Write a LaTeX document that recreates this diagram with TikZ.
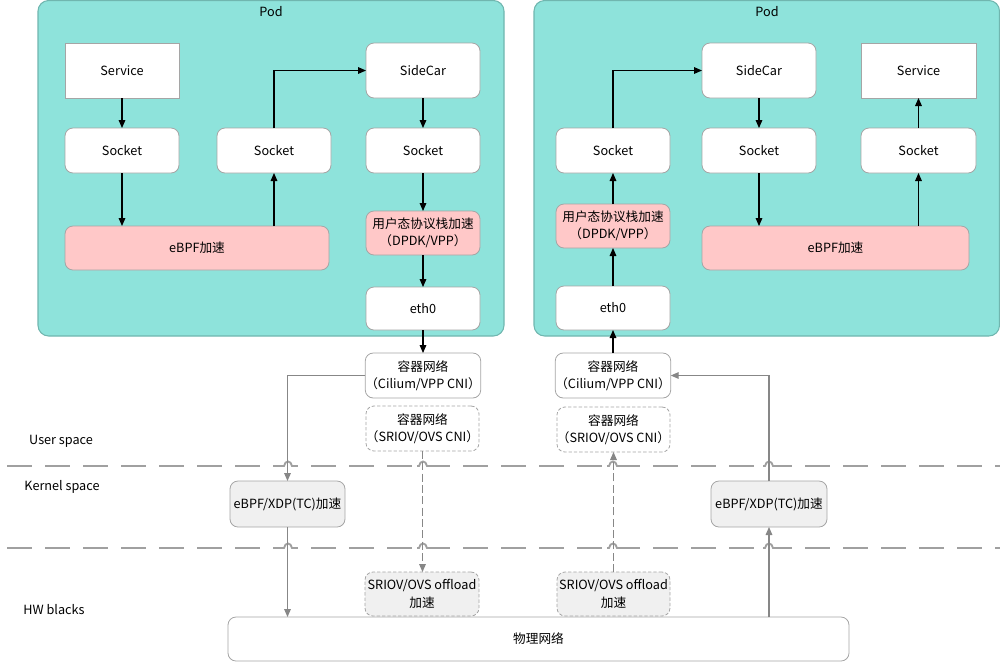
\documentclass[tikz,border=0pt]{standalone}
\usepackage{fontspec}
\setmainfont{Noto Sans CJK SC}
\usetikzlibrary{arrows.meta}
\definecolor{podfill}{RGB}{142,227,219}
\definecolor{podborder}{RGB}{112,182,175}
\definecolor{pinkfill}{RGB}{255,200,200}
\definecolor{grayfill}{RGB}{240,240,240}
\definecolor{bordergray}{RGB}{165,165,165}
\definecolor{linegray}{RGB}{135,135,135}
\definecolor{sepgray}{RGB}{160,160,160}
\newcommand\bx[7]{\node[#1, minimum width={(#5-#3)*0.75pt}, minimum height={(#6-#4)*0.75pt}] (#2) at ({(#3+#5)/2},{(#4+#6)/2}) {#7};}
\newcommand\hop[2]{%
  \fill[white] (#1-6,#2-1.5) rectangle (#1+6,#2+1.5);
  \draw[sepline, dash pattern=] (#1-6,#2) -- (#1-4,#2) .. controls (#1-3,#2-6) and (#1+3,#2-6) .. (#1+4,#2) -- (#1+6,#2);}
\begin{document}
\begin{tikzpicture}[x=0.75pt,y=-0.75pt,
  font=\fontsize{9.5}{13}\selectfont,
  every node/.style={inner sep=0pt, outer sep=0pt},
  pod/.style={draw=podborder, fill=podfill, rounded corners=8pt, line width=0.8pt},
  wbox/.style={draw=bordergray, fill=white, rounded corners=6pt, align=center, line width=0.6pt},
  sqbox/.style={draw=bordergray, fill=white, align=center, line width=0.6pt},
  pbox/.style={wbox, fill=pinkfill},
  gbox/.style={wbox, fill=grayfill},
  dbox/.style={wbox, dash pattern=on 2.5pt off 1.5pt},
  dgbox/.style={gbox, dash pattern=on 2.5pt off 1.5pt},
  blk/.style={-{Triangle[length=6pt,width=5pt]}, line width=0.8pt, black},
  gry/.style={-{Triangle[length=6pt,width=5pt]}, line width=0.8pt, linegray},
  gryd/.style={gry, dash pattern=on 6pt off 2.5pt},
  sepline/.style={sepgray, line width=1.4pt, dash pattern=on 19pt off 9.5pt}
]
\useasboundingbox (0,0) rectangle (1000,662);

% separators
\draw[sepline] (7,466) -- (1000,466);
\draw[sepline] (7,548) -- (1000,548);
\foreach \xx in {288,423,613,769} {\hop{\xx}{466}\hop{\xx}{548}}

% pods
\bx{pod}{podL}{38}{0.5}{504}{336}{}
\bx{pod}{podR}{534}{0.5}{999.5}{336}{}
\node (podLlbl) at (271,12) {Pod};
\node (podRlbl) at (767,12) {Pod};

% left pod
\bx{sqbox}{svcL}{65}{43}{179}{98}{Service}
\bx{wbox}{sk1L}{65}{128}{179}{173}{Socket}
\bx{wbox}{sk2L}{217}{128}{331}{173}{Socket}
\bx{wbox}{scL}{366}{43}{480}{98}{SideCar}
\bx{wbox}{sk3L}{366}{128}{480}{173}{Socket}
\bx{pbox}{ebL}{65}{226}{329}{270}{eBPF加速}
\bx{pbox}{dpL}{366}{211}{480}{255}{用户态协议栈加速\\（DPDK/VPP）}
\bx{wbox}{ethL}{366}{287}{480}{330}{eth0}

% right pod
\bx{wbox}{sk1R}{556}{128}{670}{173}{Socket}
\bx{pbox}{dpR}{556}{204}{670}{248}{用户态协议栈加速\\（DPDK/VPP）}
\bx{wbox}{ethR}{556}{286}{670}{330}{eth0}
\bx{wbox}{scR}{702}{43}{816}{98}{SideCar}
\bx{wbox}{sk2R}{702}{128}{816}{173}{Socket}
\bx{sqbox}{svcR}{861}{43}{976}{98}{Service}
\bx{wbox}{sk3R}{861}{128}{976}{173}{Socket}
\bx{pbox}{ebR}{702}{226}{969}{270}{eBPF加速}

% middle
\bx{wbox}{cnL}{366}{353}{480}{398}{容器网络\\（Cilium/VPP CNI）}
\bx{dbox}{srL}{366}{406}{479}{451}{容器网络\\（SRIOV/OVS CNI）}
\bx{wbox}{cnR}{556}{353}{670}{398}{容器网络\\（Cilium/VPP CNI）}
\bx{dbox}{srR}{557}{407}{670}{452}{容器网络\\（SRIOV/OVS CNI）}
\bx{gbox}{xdpL}{230}{481}{345}{527}{eBPF/XDP(TC)加速}
\bx{gbox}{xdpR}{711}{481}{827}{527}{eBPF/XDP(TC)加速}
\bx{dgbox}{offL}{365}{572}{479}{616}{SRIOV/OVS offload\\加速}
\bx{dgbox}{offR}{557}{572}{670}{616}{SRIOV/OVS offload\\加速}
\bx{wbox}{phy}{228}{617}{849}{661}{物理网络}

% layer labels
\node (us) at (61,441) {User space};
\node (ks) at (62,487) {Kernel space};
\node (hw) at (54,610) {HW blacks};

% left pod arrows
\draw[blk] (svcL) -- (sk1L);
\draw[blk] (sk1L.south) -- (sk1L.south |- ebL.north);
\draw[blk] (ebL.north -| sk2L) -- (sk2L.south);
\draw[blk] (sk2L.north) |- (scL.west);
\draw[blk] (scL) -- (sk3L);
\draw[blk] (sk3L) -- (dpL);
\draw[blk] (dpL) -- (ethL);
\draw[blk] (ethL) -- (cnL);

% right pod arrows
\draw[blk] (cnR) -- (ethR);
\draw[blk] (ethR) -- (dpR);
\draw[blk] (dpR) -- (sk1R);
\draw[blk] (sk1R.north) |- (scR.west);
\draw[blk] (scR) -- (sk2R);
\draw[blk] (sk2R.south) -- (sk2R.south |- ebR.north);
\draw[blk] (ebR.north -| sk3R) -- (sk3R.south);
\draw[blk] (sk3R) -- (svcR);

% middle connectors
\draw[gry] (cnL.west) -| (xdpL.north);
\draw[gry] (xdpL.south) -- (xdpL.south |- phy.north);
\draw[gryd] (srL.south) -- (srL.south |- offL.north);
\draw[gryd] (offR.north) -- (offR.north |- srR.south);
\draw[gry] (phy.north -| xdpR) -- (xdpR.south);
\draw[gry] (xdpR.north) |- (cnR.east);
\end{tikzpicture}
\end{document}
